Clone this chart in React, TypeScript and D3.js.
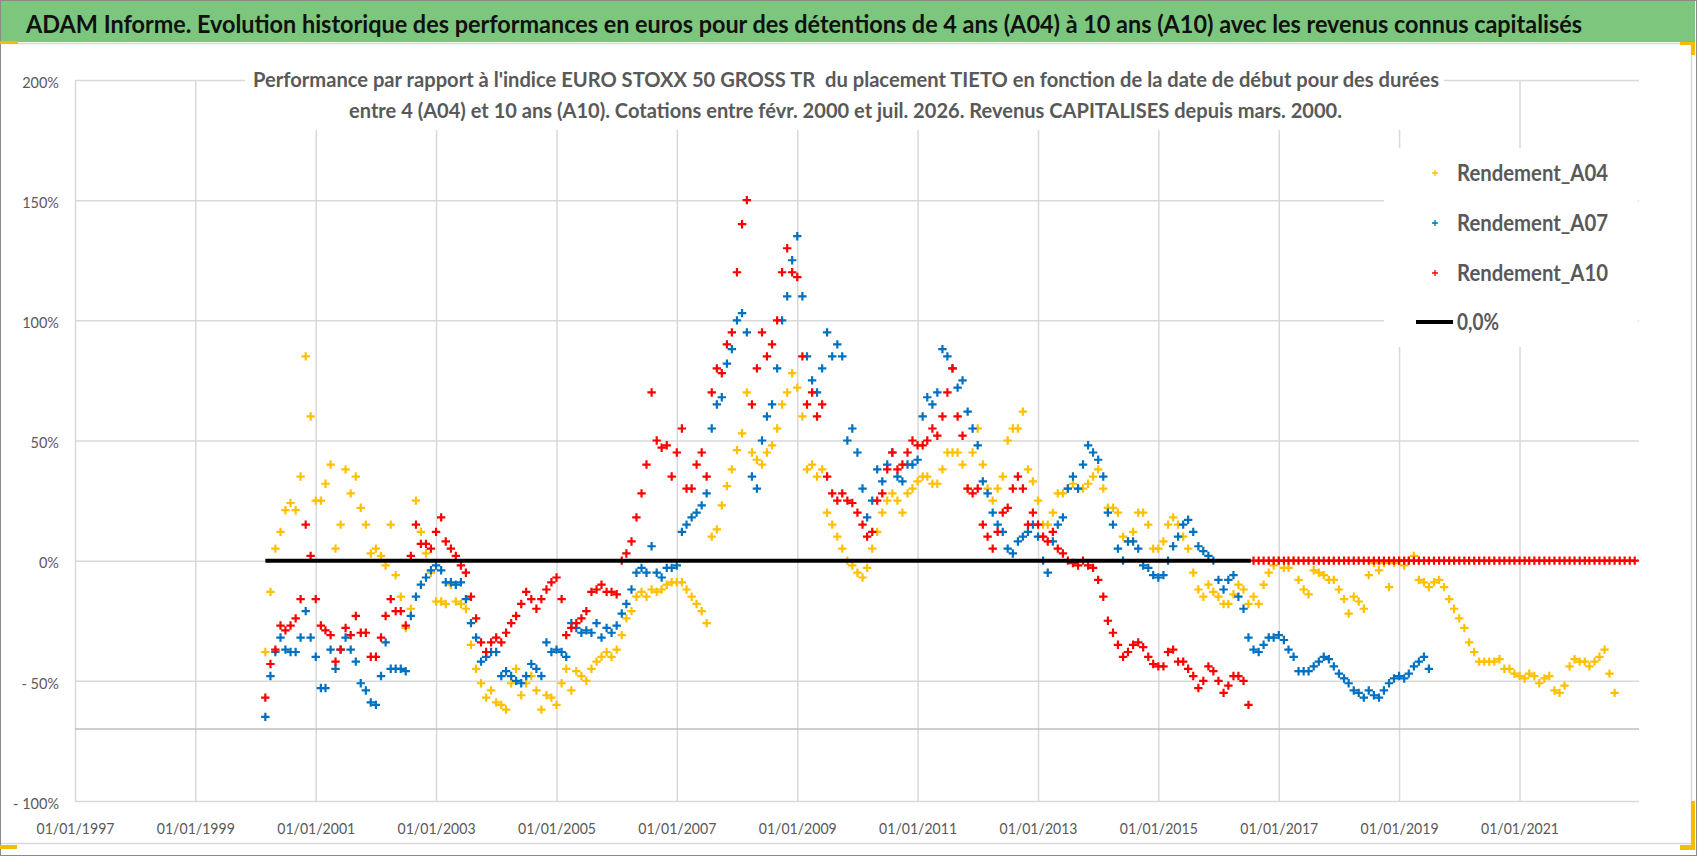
import React, { useEffect, useRef } from "react";
import * as d3 from "d3";

// Rendements mensuels (en %), à partir de mars 2000
const debutSeries = new Date(2000, 2, 1);

const rendementA04 = [
    -38, -13, 5, 12, 21, 24, 21, 35, 85, 60,
    25, 25, 32, 40, 5, 15, 38, 28, 35, 22, 15, 3,
    5, 2, -2, 15, -6, -15, -28, -20, 25, 12, 3, -5,
    -17, -17, -18, -10, -17, -18, -20, -35, -45, -51, -57, -54,
    -59, -60, -62, -51, -45, -56, -51, -48, -54, -62, -56, -57,
    -60, -51, -45, -54, -46, -48, -50, -45, -42, -40, -38, -40,
    -37, -31, -24, -21, -15, -13, -15, -12, -13, -12, -10, -9,
    -9, -9, -12, -15, -18, -21, -26, 10, 13, 23, 31, 38,
    46, 53, 70, 45, 42, 40, 45, 48, 55, 65, 70, 78,
    72, 60, 38, 40, 35, 38, 20, 15, 10, 5, 0, -2,
    -5, -7, -3, 5, 12, 20, 25, 28, 25, 20, 28, 30,
    33, 35, 35, 32, 32, 38, 45, 45, 45, 40, 30, 45,
    55, 40, 30, 25, 30, 35, 50, 55, 55, 62, 38, 33,
    25, 15, 15, 20, 28, 28, 30, 32, 30, 30, 32, 35,
    38, 30, 22, 22, 20, 10, 8, 12, 20, 20, 15, 5,
    5, 8, 15, 18, 15, 10, 5, -5, -12, -15, -10, -13,
    -15, -18, -18, -14, -10, -12, -18, -15, -18, -10, -5, -2,
    0, -3, -3, 0, -8, -12, -14, -4, -5, -6, -8, -8,
    -12, -16, -22, -15, -17, -20, -6, -1, -4, -1, -11, -1,
    0, -2, 0, 2, -8, -9, -11, -9, -8, -11, -16, -20,
    -24, -28, -34, -38, -42, -42, -42, -42, -41, -45, -45, -47,
    -48, -49, -47, -48, -51, -49, -48, -54, -55, -52, -44, -41,
    -42, -42, -44, -42, -40, -37, -47, -55,
];

const rendementA07 = [
    -65, -48, -38, -32, -37, -38, -38, -32, -21, -32,
    -40, -53, -53, -37, -45, -37, -32, -37, -42, -51, -54, -59,
    -60, -48, -34, -45, -45, -45, -46, -23, -15, -10, -7, -4,
    -2, -4, -9, -9, -10, -9, -16, -26, -32, -42, -40, -38,
    -38, -48, -46, -48, -50, -51, -48, -43, -45, -48, -34, -38,
    -37, -38, -40, -26, -28, -30, -29, -30, -26, -32, -28, -30,
    -27, -22, -18, -12, -5, -3, -5, 6, -5, -7, -3, -3,
    -2, 12, 15, 18, 20, 23, 28, 55, 65, 68, 82, 88,
    100, 103, 95, 35, 30, 50, 60, 65, 80, 100, 110, 125,
    135, 110, 85, 75, 70, 80, 95, 85, 90, 85, 50, 55,
    45, 30, 18, 25, 38, 33, 40, 45, 35, 33, 40, 40,
    42, 60, 68, 65, 70, 88, 85, 80, 72, 75, 62, 55,
    48, 33, 28, 20, 15, 12, 5, 3, 8, 10, 12, 15,
    10, 0, -5, 8, 15, 18, 30, 35, 30, 40, 48, 45,
    42, 35, 20, 15, 5, 0, 8, 8, 5, -2, -3, -6,
    -7, -6, 0, 6, 10, 15, 17, 12, 6, 4, 2, 0,
    -8, -12, -8, -6, -15, -20, -32, -37, -38, -35, -32, -32,
    -31, -33, -37, -40, -46, -46, -46, -44, -42, -40, -41, -44,
    -47, -49, -51, -54, -55, -57, -54, -56, -57, -54, -51, -49,
    -48, -49, -47, -44, -42, -40, -45,
];

const rendementA10 = [
    -57, -43, -37, -27, -29, -27, -24, -16, 15, 2,
    -16, -27, -29, -31, -42, -37, -28, -31, -23, -30, -30, -40,
    -40, -32, -23, -16, -21, -21, -27, 2, 15, 7, 7, 5,
    12, 18, 8, 5, 2, -2, -5, -15, -24, -34, -38, -34,
    -32, -34, -30, -26, -23, -18, -13, -16, -20, -16, -12, -9,
    -7, -16, -31, -28, -26, -24, -21, -13, -12, -10, -13, -13,
    -14, 0, 3, 8, 18, 28, 40, 70, 50, 47, 48, 35,
    45, 55, 30, 30, 40, 45, 35, 70, 80, 78, 90, 95,
    120, 140, 150, 65, 80, 95, 85, 90, 100, 120, 130, 120,
    118, 85, 65, 70, 60, 65, 35, 28, 25, 28, 25, 24,
    20, 15, 10, 12, 25, 28, 38, 45, 38, 40, 45, 50,
    48, 48, 50, 55, 52, 60, 70, 80, 60, 52, 30, 28,
    30, 15, 10, 5, 12, 20, 22, 30, 35, 30, 15, 20,
    15, 10, 8, 12, 5, 3, 0, -1, -2, 0, -2, -3,
    -8, -15, -25, -30, -35, -40, -38, -35, -34, -36, -40, -43,
    -44, -44, -38, -37, -42, -42, -45, -48, -53, -50, -44, -46,
    -50, -55, -52, -48, -48, -50, -60,
    // après juillet 2016 la série reste à 0
    0, 0, 0, 0, 0,
    0, 0, 0, 0, 0, 0, 0, 0, 0, 0, 0, 0,
    0, 0, 0, 0, 0, 0, 0, 0, 0, 0, 0, 0,
    0, 0, 0, 0, 0, 0, 0, 0, 0, 0, 0, 0,
    0, 0, 0, 0, 0, 0, 0, 0, 0, 0, 0, 0,
    0, 0, 0, 0, 0, 0, 0, 0, 0, 0, 0, 0,
    0, 0, 0, 0, 0, 0, 0, 0, 0, 0, 0, 0,
];

const ligneZeroDebut = new Date(2000, 2, 1);
const ligneZeroFin = new Date(2016, 6, 15);

const anneesGraduation = [1997, 1999, 2001, 2003, 2005, 2007, 2009, 2011, 2013, 2015, 2017, 2019, 2021];
const graduationsY = [200, 150, 100, 50, 0, -50, -100];
const libellesY = ["200%", "150%", "100%", "50%", "0%", "- 50%", "- 100%"];

const titre =
    "ADAM Informe. Evolution historique des performances en euros pour des détentions de 4 ans (A04) à 10 ans (A10) avec les revenus connus capitalisés";
const sousTitre1 =
    "Performance par rapport à l'indice EURO STOXX 50 GROSS TR  du placement TIETO en fonction de la date de début pour des durées";
const sousTitre2 =
    "entre 4 (A04) et 10 ans (A10). Cotations entre févr. 2000 et juil. 2026. Revenus CAPITALISES depuis mars. 2000.";

const series = [
    { nom: "Rendement_A04", couleur: "#FFC000", valeurs: rendementA04 },
    { nom: "Rendement_A07", couleur: "#0070C0", valeurs: rendementA07 },
    { nom: "Rendement_A10", couleur: "#FF0000", valeurs: rendementA10 },
];

const police = "Lato, 'Open Sans', 'DejaVu Sans', sans-serif";
const gris = "#595959";
const croix = "M-4.2,0H4.2M0,-4.2V4.2";

const App: React.FC = () => {
    const ref = useRef<SVGSVGElement | null>(null);

    useEffect(() => {
        const svg = d3.select(ref.current);
        svg.selectAll("*").remove();

        const x = d3
            .scaleTime()
            .domain([new Date(1997, 0, 1), new Date(2022, 11, 27)])
            .range([75, 1639]);
        const y = d3.scaleLinear().domain([-100, 200]).range([801, 80]);

        // fond et cadre
        svg.append("rect").attr("width", 1698).attr("height", 856).attr("fill", "#fff");
        svg.append("rect")
            .attr("x", 1).attr("y", 1).attr("width", 1694).attr("height", 41)
            .attr("fill", "#7dc67e");
        svg.append("path")
            .attr("d", "M0,43.5H1691.5V843.5H0")
            .attr("fill", "none").attr("stroke", "#d9d9d9").attr("stroke-width", 1.5);
        svg.append("rect")
            .attr("x", 0.5).attr("y", 0.5).attr("width", 1696).attr("height", 855)
            .attr("fill", "none").attr("stroke", "#8a8a8a");
        const poignees = [
            [0, 41, 18, 3], [1680, 42, 15, 3], [1691, 42, 4, 13],
            [1691, 801, 4, 49], [1680, 845, 15, 5], [0, 845, 17, 4],
        ];
        svg.append("g").selectAll("rect").data(poignees).join("rect")
            .attr("x", (d) => d[0]).attr("y", (d) => d[1])
            .attr("width", (d) => d[2]).attr("height", (d) => d[3])
            .attr("fill", "#f5bd00");

        // grille et axes
        const axeX = svg.append("g")
            .attr("transform", "translate(0,801)")
            .call(
                d3.axisBottom(x)
                    .tickValues(anneesGraduation.map((a) => new Date(a, 0, 1)))
                    .tickFormat((d) => d3.timeFormat("%d/%m/%Y")(d as Date))
                    .tickSize(-721)
                    .tickPadding(22)
            );
        axeX.select(".domain").remove();
        axeX.selectAll(".tick line").attr("stroke", "#d9d9d9").attr("stroke-width", 1.5);
        axeX.selectAll(".tick text")
            .attr("fill", gris).attr("font-family", police).attr("font-size", 16)
            .attr("textLength", 78).attr("lengthAdjust", "spacingAndGlyphs");

        const axeY = svg.append("g")
            .attr("transform", "translate(75,0)")
            .call(
                d3.axisLeft(y)
                    .tickValues(graduationsY)
                    .tickFormat((d, i) => libellesY[i])
                    .tickSize(-1564)
                    .tickPadding(16)
            );
        axeY.select(".domain").remove();
        axeY.selectAll(".tick line").attr("stroke", "#d9d9d9").attr("stroke-width", 1.5);
        axeY.selectAll(".tick text")
            .attr("fill", gris).attr("font-family", police).attr("font-size", 14.5)
            .attr("dy", "0.5em");

        svg.append("line")
            .attr("x1", 75).attr("x2", 1639)
            .attr("y1", y(-70)).attr("y2", y(-70))
            .attr("stroke", "#bfbfbf").attr("stroke-width", 1.5);

        // séries de points
        series.forEach((s) => {
            svg.append("g")
                .attr("stroke", s.couleur)
                .attr("stroke-width", 2.2)
                .selectAll("path")
                .data(s.valeurs)
                .join("path")
                .attr("d", croix)
                .attr("transform", (v, i) =>
                    `translate(${x(d3.timeMonth.offset(debutSeries, i))},${y(v)})`);
        });

        // ligne 0,0%
        const ligne = d3.line<[Date, number]>().x((d) => x(d[0])).y((d) => y(d[1]));
        svg.append("path")
            .attr("d", ligne([[ligneZeroDebut, 0], [ligneZeroFin, 0]]))
            .attr("stroke", "#000").attr("stroke-width", 4).attr("fill", "none");

        // titre
        svg.append("text")
            .attr("x", 26).attr("y", 33)
            .attr("font-family", police).attr("font-weight", "bold").attr("font-size", 24)
            .attr("fill", "#111")
            .attr("textLength", 1556).attr("lengthAdjust", "spacingAndGlyphs")
            .text(titre);

        // sous-titre
        svg.append("rect")
            .attr("x", 245).attr("y", 50).attr("width", 1199).attr("height", 80)
            .attr("fill", "#fff");
        [[sousTitre1, 253, 87, 1186], [sousTitre2, 349, 118, 993]].forEach(([t, tx, ty, tl]) => {
            svg.append("text")
                .attr("x", tx as number).attr("y", ty as number)
                .attr("font-family", police).attr("font-weight", "bold").attr("font-size", 20)
                .attr("fill", gris)
                .attr("textLength", tl as number).attr("lengthAdjust", "spacingAndGlyphs")
                .style("white-space", "pre")
                .text(t as string);
        });

        // légende
        const legende = svg.append("g");
        legende.append("rect")
            .attr("x", 1384).attr("y", 148).attr("width", 254).attr("height", 199)
            .attr("fill", "#fff");
        series.forEach((s, i) => {
            const ly = 173 + i * 50;
            legende.append("path")
                .attr("d", "M-3,0H3M0,-3V3")
                .attr("transform", `translate(1435,${ly})`)
                .attr("stroke", s.couleur).attr("stroke-width", 1.3);
            legende.append("text")
                .attr("x", 1457).attr("y", ly + 8)
                .attr("font-family", police).attr("font-weight", "bold").attr("font-size", 23)
                .attr("fill", gris)
                .attr("textLength", 151).attr("lengthAdjust", "spacingAndGlyphs")
                .text(s.nom);
        });
        legende.append("line")
            .attr("x1", 1416).attr("x2", 1453).attr("y1", 322).attr("y2", 322)
            .attr("stroke", "#000").attr("stroke-width", 4);
        legende.append("text")
            .attr("x", 1457).attr("y", 330)
            .attr("font-family", police).attr("font-weight", "bold").attr("font-size", 23)
            .attr("fill", gris)
            .attr("textLength", 42).attr("lengthAdjust", "spacingAndGlyphs")
            .text("0,0%");
    }, []);

    return (
        <svg
            ref={ref}
            width={1698}
            height={856}
            style={{ position: "absolute", left: 0, top: 0, display: "block" }}
        />
    );
};

export default App;
